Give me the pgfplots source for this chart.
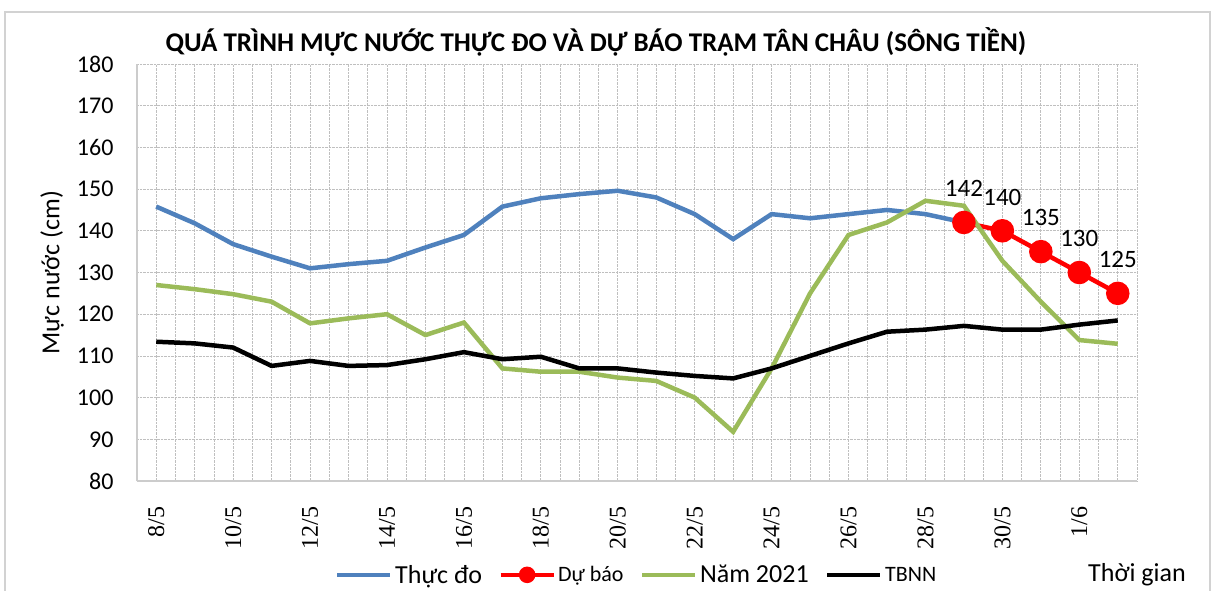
\documentclass[border=0pt]{standalone}
\usepackage{fontspec}
\setmainfont{Carlito}
\newfontfamily\carlito{Carlito}
\newfontfamily\serifr{Liberation Serif}
\usepackage{pgfplots}
\pgfplotsset{compat=1.18}
\definecolor{cblue}{HTML}{4F81BD}
\definecolor{cred}{HTML}{FF0000}
\definecolor{cgreen}{HTML}{9BBB59}
\begin{document}
\begin{tikzpicture}
\useasboundingbox (0pt,0pt) rectangle (1216pt,590pt);
\draw[gray!35, line width=1.5pt] (5pt,-20pt) rectangle (1210pt,578pt);
\node[font=\carlito\bfseries\fontsize{27}{30}\selectfont] at (596pt,548pt) {QUÁ TRÌNH MỰC NƯỚC THỰC ĐO VÀ DỰ BÁO TRẠM TÂN CHÂU (SÔNG TIỀN)};
\begin{axis}[
  at={(137pt,109pt)}, anchor=south west,
  width=1000pt, height=417pt, scale only axis,
  xmin=-0.5, xmax=25.5, ymin=80, ymax=180,
  ytick={80,90,...,180},
  xtick={0,2,...,24},
  xticklabels={8/5,10/5,12/5,14/5,16/5,18/5,20/5,22/5,24/5,26/5,28/5,30/5,1/6},
  minor xtick={-0.5,0,...,25.5},
  xmajorgrids, xminorgrids, ymajorgrids,
  major grid style={gray!50, densely dotted, line width=0.8pt},
  minor grid style={gray!50, densely dotted, line width=0.8pt},
  major tick length=0pt, minor tick length=0pt,
  axis x line*=bottom, axis y line*=left,
  axis line style={gray!40, line width=1.2pt, -},
  /pgf/number format/assume math mode=true,
  xticklabel style={rotate=90, anchor=east, font=\serifr\fontsize{24}{26}\selectfont},
  xticklabel shift={22pt},
  yticklabel style={font=\carlito\fontsize{24}{26}\selectfont},
  yticklabel shift={20pt},
  ylabel={Mực nước (cm)},
  every axis y label/.style={at={(rel axis cs:-0.085,0.5)}, rotate=90, anchor=center, font=\carlito\fontsize{26}{28}\selectfont},
  legend columns=4,
  legend style={at={(0.5,-0.225)}, anchor=center, draw=none, fill=none,
    font=\carlito\fontsize{26}{28}\selectfont,
    nodes={inner sep=2.5pt},
    /tikz/every even column/.append style={column sep=14pt},
    inner sep=0pt},
  legend image code/.code={\draw[#1] (0pt,0pt) -- (53pt,0pt);},
  clip=false,
]
\addplot[cblue, line width=4.5pt, mark=none] coordinates {
(0,145.8)(1,141.8)(2,136.8)(3,133.8)(4,131)(5,132)(6,132.8)(7,136)(8,139)(9,145.8)(10,147.8)(11,148.8)(12,149.6)(13,148)(14,144)(15,138)(16,144)(17,143)(18,144)(19,145)(20,144)(21,142)};
\addlegendentry{Thực đo}
\addplot[cred, line width=4.5pt, mark=*, mark size=9.5pt,
  legend image code/.code={\draw[cred, line width=4pt] (0pt,0pt) -- (53pt,0pt); \fill[cred] (26.5pt,0pt) circle (6pt);},
  nodes near coords, point meta=explicit symbolic,
  every node near coord/.append style={black, font=\carlito\fontsize{25}{27}\selectfont, anchor=south, yshift=20pt}] coordinates {
(21,142)[142](22,140)[140](23,135)[135](24,130)[130](25,125)[125]};
\addlegendentry{{\fontsize{22}{24}\selectfont Dự báo}}
\addplot[cgreen, line width=4.5pt, mark=none] coordinates {
(0,127)(1,126)(2,124.8)(3,123)(4,117.8)(5,119)(6,120)(7,115)(8,118)(9,107)(10,106.2)(11,106.2)(12,104.8)(13,104)(14,100)(15,91.8)(16,107)(17,125)(18,139)(19,142)(20,147.2)(21,146)(22,132.8)(23,123)(24,113.8)(25,112.9)};
\addlegendentry{Năm 2021}
\addplot[black, line width=4.5pt, mark=none] coordinates {
(0,113.4)(1,113)(2,112)(3,107.6)(4,108.8)(5,107.6)(6,107.8)(7,109.2)(8,110.9)(9,109.2)(10,109.8)(11,107)(12,107)(13,106)(14,105.2)(15,104.6)(16,107)(17,110)(18,113)(19,115.8)(20,116.3)(21,117.2)(22,116.3)(23,116.3)(24,117.5)(25,118.5)};
\addlegendentry{{\fontsize{22}{24}\selectfont TBNN}}
\node[font=\carlito\fontsize{26}{28}\selectfont] at (rel axis cs:1,-0.225) {Thời gian};
\end{axis}
\end{tikzpicture}
\end{document}
